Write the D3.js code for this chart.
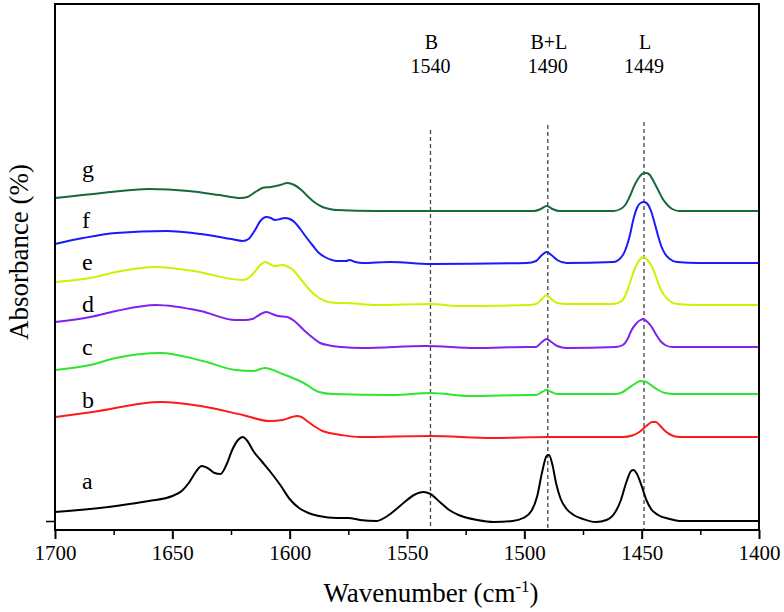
<!DOCTYPE html>
<html><head><meta charset="utf-8">
<script src="https://cdn.jsdelivr.net/npm/d3@7"></script>
<style>html,body{margin:0;padding:0;background:#fff}</style>
</head><body>
<svg id="chart" width="784" height="612"></svg>
<script>
// ---- data (wavenumber, absorbance offset units) ----
const seriesNames = ["a","b","c","d","e","f","g"];
const seriesColors = ["#000000","#ff1a1a","#2ee62e","#7f22f0","#d2ef00","#1a1aff","#17683a"];
const a = [[1700,0.09],[1674,0.15],[1660,0.20],[1650,0.25],[1646,0.30],[1643,0.38],[1640,0.49],[1637.5,0.55],[1635,0.53],[1632,0.48],[1629.5,0.47],[1627,0.56],[1624.5,0.71],[1622,0.81],[1620,0.84],[1618,0.80],[1615.5,0.70],[1612,0.60],[1608.5,0.50],[1604,0.36],[1600,0.22],[1596,0.13],[1592,0.08],[1587.5,0.05],[1580,0.03],[1575,0.03],[1570,0.01],[1563,0.00],[1559,0.04],[1555,0.11],[1551,0.19],[1547,0.26],[1543,0.29],[1540,0.27],[1536,0.19],[1532,0.11],[1528,0.06],[1520,0.01],[1513,-0.01],[1505,0.00],[1500.5,0.03],[1497,0.10],[1494.5,0.25],[1492.5,0.48],[1490.5,0.65],[1489.5,0.66],[1488,0.56],[1486.5,0.38],[1484.5,0.22],[1482,0.12],[1479,0.06],[1475,0.02],[1469.5,-0.01],[1465,0.01],[1461.5,0.08],[1459,0.20],[1456.5,0.39],[1454.5,0.50],[1453.5,0.51],[1452,0.47],[1450,0.35],[1448,0.21],[1446,0.12],[1443,0.06],[1438,0.02],[1434,0.00],[1400,0.00]];
const b = [[1700,1.04],[1684,1.09],[1655,1.19],[1638,1.15],[1620,1.06],[1608.5,1.00],[1603,1.01],[1599,1.04],[1597,1.05],[1595,1.04],[1592,0.99],[1589,0.94],[1586,0.90],[1583,0.88],[1578,0.86],[1570,0.84],[1540,0.85],[1513.5,0.83],[1490,0.84],[1458,0.84],[1454,0.855],[1451,0.89],[1448,0.95],[1445.5,0.99],[1444,0.99],[1442,0.95],[1440,0.90],[1437.5,0.86],[1434,0.84],[1400,0.84]];
const c = [[1700,1.51],[1685,1.56],[1674,1.63],[1655,1.68],[1637,1.60],[1623,1.51],[1615.6,1.50],[1610.6,1.53],[1603,1.47],[1594,1.38],[1587.5,1.29],[1581.6,1.27],[1556,1.26],[1540,1.28],[1523,1.25],[1498,1.26],[1495,1.26],[1492.5,1.29],[1490.5,1.31],[1488.5,1.29],[1486,1.27],[1461,1.27],[1458,1.29],[1455.5,1.33],[1453,1.37],[1450.5,1.40],[1448,1.39],[1445.5,1.35],[1443,1.31],[1440,1.28],[1436,1.27],[1400,1.27]];
const d = [[1700,1.99],[1685,2.04],[1674,2.10],[1657,2.16],[1638,2.10],[1623,2.01],[1619,2.01],[1616,2.02],[1613,2.06],[1610,2.09],[1607.5,2.07],[1605,2.05],[1601,2.04],[1598,2.00],[1594,1.91],[1590,1.83],[1587,1.78],[1583,1.755],[1578,1.74],[1569,1.73],[1542,1.75],[1520.6,1.73],[1499,1.74],[1495,1.74],[1492.5,1.79],[1490.5,1.82],[1488.5,1.79],[1486,1.75],[1482,1.73],[1461,1.74],[1458,1.76],[1456,1.82],[1454.5,1.90],[1452.5,1.97],[1450.5,2.01],[1449.5,2.02],[1448,2.00],[1446,1.95],[1444,1.87],[1442,1.80],[1440,1.76],[1437,1.74],[1400,1.74]];
const e = [[1700,2.39],[1685,2.43],[1674,2.49],[1657,2.54],[1641,2.50],[1620,2.41],[1617.5,2.43],[1615,2.49],[1612.5,2.56],[1610.6,2.59],[1608.5,2.57],[1606.4,2.55],[1603,2.56],[1600.5,2.54],[1598.6,2.51],[1595,2.41],[1591.5,2.31],[1588,2.24],[1585,2.20],[1580,2.18],[1577,2.18],[1563,2.16],[1540,2.17],[1528,2.15],[1498,2.16],[1495,2.17],[1492.5,2.22],[1490.5,2.26],[1488.5,2.22],[1486,2.18],[1482,2.17],[1462,2.17],[1458.5,2.20],[1456.5,2.28],[1455,2.38],[1453,2.52],[1451,2.61],[1449.4,2.64],[1448,2.62],[1446,2.56],[1444,2.45],[1442.5,2.35],[1440.5,2.26],[1438,2.20],[1435,2.17],[1425.5,2.16],[1400,2.16]];
const f = [[1700,2.77],[1688,2.83],[1674,2.88],[1652.5,2.90],[1638,2.87],[1625,2.82],[1620,2.80],[1617.5,2.82],[1615,2.90],[1612.5,3.00],[1610,3.04],[1608,3.03],[1606.4,3.01],[1604,3.02],[1602,3.03],[1600,3.02],[1598,2.99],[1595.5,2.92],[1593,2.84],[1590,2.75],[1587.5,2.68],[1585,2.64],[1582,2.61],[1580,2.60],[1576,2.60],[1574.5,2.61],[1572,2.59],[1569,2.58],[1557,2.59],[1540,2.57],[1499,2.58],[1495,2.60],[1492.5,2.66],[1490.5,2.69],[1488.5,2.66],[1486,2.61],[1482,2.58],[1462,2.59],[1458,2.66],[1456.5,2.74],[1455,2.86],[1453.5,3.02],[1452,3.13],[1450.5,3.18],[1449,3.19],[1447.5,3.17],[1446,3.10],[1444.5,2.98],[1443,2.85],[1441.5,2.74],[1440,2.67],[1438,2.62],[1435,2.59],[1425.5,2.58],[1400,2.58]];
const g = [[1700,3.23],[1680,3.28],[1660,3.32],[1643,3.30],[1630,3.26],[1621,3.23],[1618,3.24],[1614,3.30],[1611,3.335],[1608,3.34],[1604,3.36],[1601,3.38],[1598,3.36],[1595,3.31],[1592,3.24],[1589,3.18],[1586,3.14],[1583,3.12],[1580,3.11],[1563,3.10],[1540,3.10],[1498,3.10],[1496,3.10],[1493,3.12],[1490.5,3.15],[1488,3.12],[1485,3.10],[1462,3.10],[1459,3.12],[1457,3.16],[1455,3.25],[1453,3.36],[1451,3.44],[1449.5,3.475],[1448,3.48],[1446.5,3.46],[1445,3.40],[1443,3.31],[1441,3.22],[1439,3.16],[1437,3.12],[1434,3.10],[1400,3.10]];
const seriesData = [a,b,c,d,e,f,g];
const labelBaselines = [0.32,1.13,1.66,2.09,2.51,2.93,3.44];
const xTicks = [1700,1650,1600,1550,1500,1450,1400];
const xMinorTicks = [1675,1625,1575,1525,1475,1425];
const refLines = [{w:1540,name:"B",top:3.91},{w:1490,name:"B+L",top:3.96},{w:1449,name:"L",top:3.99}];

// ---- layout ----
const svg = d3.select("#chart");
const L = 55, R = 759, T = 4, B = 530;
const x = d3.scaleLinear().domain([1700,1400]).range([L,R]);
const y = d3.scaleLinear().domain([-0.09,5.17]).range([B,T]);
const FONT = "Liberation Serif";

// reference dashed lines
refLines.forEach(r => {
  svg.append("line").attr("x1",x(r.w)).attr("x2",x(r.w)).attr("y1",y(r.top)).attr("y2",B)
    .attr("stroke","#444").attr("stroke-width",1.3).attr("stroke-dasharray","4,3");
  svg.append("text").attr("x",x(r.w)+1).attr("y",49).attr("text-anchor","middle")
    .style("font-family",FONT).style("font-size","20px").text(r.name);
  svg.append("text").attr("x",x(r.w)).attr("y",73).attr("text-anchor","middle")
    .style("font-family",FONT).style("font-size","20px").text(r.w);
});

// curves
const line = d3.line().x(p => x(p[0])).y(p => y(p[1])).curve(d3.curveMonotoneX);
seriesData.forEach((s,i) => {
  svg.append("path").attr("d",line(s)).attr("fill","none")
    .attr("stroke",seriesColors[i]).attr("stroke-width",2).attr("stroke-linejoin","round");
  svg.append("text").attr("x",82).attr("y",y(labelBaselines[i]))
    .style("font-family",FONT).style("font-size","24px").text(seriesNames[i]);
});

// frame
svg.append("rect").attr("x",L).attr("y",T).attr("width",R-L).attr("height",B-T)
  .attr("fill","none").attr("stroke","#000").attr("stroke-width",2);

// bottom axis
const xAxis = d3.axisBottom(x).tickValues(xTicks).tickSize(9).tickPadding(6).tickFormat(d3.format("d"));
const gx = svg.append("g").attr("transform",`translate(0,${B})`).call(xAxis);
gx.select(".domain").remove();
gx.selectAll(".tick line").attr("stroke","#000").attr("stroke-width",2);
gx.selectAll(".tick text").style("font-family",FONT).style("font-size","21px").attr("fill","#000");
const gxm = svg.append("g").attr("transform",`translate(0,${B})`)
  .call(d3.axisBottom(x).tickValues(xMinorTicks).tickSize(5).tickFormat(""));
gxm.select(".domain").remove();
gxm.selectAll(".tick line").attr("stroke","#000").attr("stroke-width",1.5);

// left axis (single tick)
const gy = svg.append("g").attr("transform",`translate(${L},0)`)
  .call(d3.axisLeft(y).tickValues([0]).tickSize(9).tickFormat(""));
gy.select(".domain").remove();
gy.selectAll(".tick line").attr("stroke","#000").attr("stroke-width",1.5);

// axis titles
const xt = svg.append("text").attr("x",431).attr("y",602).attr("text-anchor","middle")
  .style("font-family",FONT).style("font-size","27px");
xt.append("tspan").text("Wavenumber (cm");
xt.append("tspan").attr("dy",-10).style("font-size","17px").text("-1");
xt.append("tspan").attr("dy",10).text(")");
svg.append("text").attr("transform","translate(28,252) rotate(-90)").attr("text-anchor","middle")
  .style("font-family",FONT).style("font-size","27px").text("Absorbance (%)");
</script>
</body></html>
